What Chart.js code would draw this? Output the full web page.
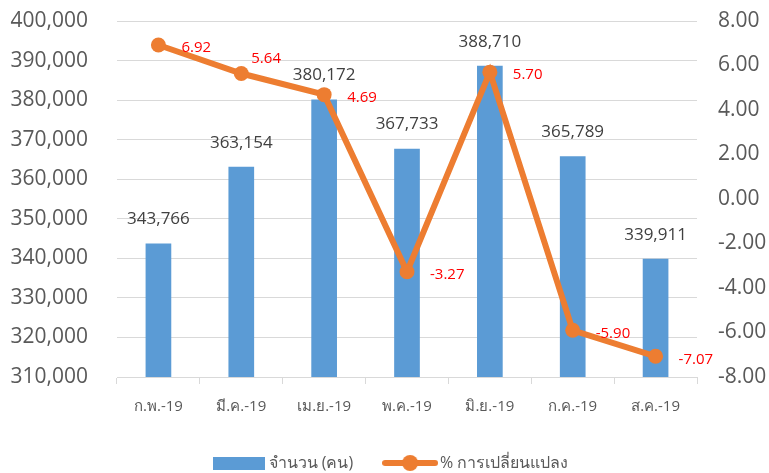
<!DOCTYPE html>
<html>
<head>
<meta charset="utf-8">
<script src="https://cdn.jsdelivr.net/npm/chart.js@4/dist/chart.umd.min.js"></script>
<style>
  html, body { margin: 0; padding: 0; background: #fff; }
</style>
</head>
<body>
<canvas id="chart" width="769" height="473"></canvas>
<script>
// data
const months = ['ก.พ.-19', 'มี.ค.-19', 'เม.ย.-19', 'พ.ค.-19', 'มิ.ย.-19', 'ก.ค.-19', 'ส.ค.-19'];
const visitors = [343766, 363154, 380172, 367733, 388710, 365789, 339911];
const changePct = [6.92, 5.64, 4.69, -3.27, 5.70, -5.90, -7.07];
const barName = 'จำนวน (คน)';
const lineName = '% การเปลี่ยนแปลง';

const BLUE = '#5B9BD5';
const ORANGE = '#ED7D31';
const FONT = '"Open Sans", "Liberation Sans", sans-serif';
const PLOT_BOTTOM = 377;
const LEGEND_Y = 463;
const LEGEND_SHIFT_X = 8;

// % labels sit right of the point; the 5.64 one was dragged up in Excel
const pctLabelShift = [[23, 3], [23, 3], [23, 3], [23, 3], [23, 3], [23, 3], [23, 3]];
pctLabelShift[1] = [10, -15];

const fmt = new Intl.NumberFormat('en-US');

const makeSwatch = (w, h, draw) => {
  const c = document.createElement('canvas');
  c.width = w; c.height = h;
  draw(c.getContext('2d'));
  return c;
};
const barSwatch = makeSwatch(52, 13, g => { g.fillStyle = BLUE; g.fillRect(0, 0, 52, 13); });
const lineSwatch = makeSwatch(56, 18, g => {
  g.strokeStyle = ORANGE; g.lineWidth = 6; g.lineCap = 'round';
  g.beginPath(); g.moveTo(3, 9); g.lineTo(53, 9); g.stroke();
  g.fillStyle = ORANGE; g.beginPath(); g.arc(28, 9, 8, 0, Math.PI * 2); g.fill();
});

const valueLabels = {
  id: 'valueLabels',
  afterDatasetsDraw(chart) {
    const ctx = chart.ctx;
    const bars = chart.getDatasetMeta(1).data;
    const points = chart.getDatasetMeta(0).data;
    ctx.save();
    ctx.textBaseline = 'middle';
    ctx.textAlign = 'center';
    ctx.font = '17px ' + FONT;
    ctx.fillStyle = '#404040';
    bars.forEach((bar, i) => {
      ctx.fillText(fmt.format(visitors[i]), bar.x, bar.y - 24);
    });
    ctx.textAlign = 'left';
    ctx.font = '15px ' + FONT;
    ctx.fillStyle = '#FF0000';
    points.forEach((pt, i) => {
      ctx.fillText(changePct[i].toFixed(2), pt.x + pctLabelShift[i][0], pt.y + pctLabelShift[i][1]);
    });
    ctx.restore();
  }
};

// move the legend row to where Excel put it
const legendNudge = {
  id: 'legendNudge',
  afterLayout(chart) {
    const lg = chart.legend;
    const o = lg.options.labels;
    const dy = LEGEND_Y - (lg.top + o.padding + o.font.size / 2);
    lg.top += dy;
    lg.bottom += dy;
    lg.left += LEGEND_SHIFT_X;
    lg.right += LEGEND_SHIFT_X;
  }
};

new Chart(document.getElementById('chart'), {
  data: {
    labels: months,
    datasets: [
      {
        type: 'line',
        label: lineName,
        data: changePct,
        yAxisID: 'yPct',
        borderColor: ORANGE,
        backgroundColor: ORANGE,
        borderWidth: 6,
        pointRadius: 7.5,
        pointBackgroundColor: ORANGE,
        pointBorderWidth: 0,
        tension: 0,
        order: 0
      },
      {
        type: 'bar',
        label: barName,
        data: visitors,
        yAxisID: 'y',
        backgroundColor: BLUE,
        barPercentage: 0.31,
        categoryPercentage: 1,
        order: 1
      }
    ]
  },
  options: {
    responsive: false,
    animation: false,
    layout: { padding: { top: 21, left: 0, right: 0, bottom: 0 } },
    plugins: {
      tooltip: { enabled: false },
      legend: {
        position: 'bottom',
        reverse: true,
        labels: {
          usePointStyle: true,
          pointStyleWidth: 44,
          padding: 35,
          color: '#595959',
          font: { family: FONT, size: 16 },
          generateLabels: chart => chart.data.datasets.map((ds, i) => ({
            text: ds.label,
            datasetIndex: i,
            hidden: false,
            fontColor: '#595959',
            pointStyle: ds.type === 'bar' ? barSwatch : lineSwatch,
            lineWidth: 0
          }))
        }
      }
    },
    scales: {
      x: {
        grid: {
          offset: true,
          drawOnChartArea: false,
          color: '#D9D9D9',
          tickLength: 7
        },
        border: { color: '#D9D9D9' },
        ticks: { color: '#595959', padding: 14, font: { family: FONT, size: 15 } },
        afterFit: s => { s.height = s.chart.height - PLOT_BOTTOM - s.chart.legend.height; }
      },
      y: {
        position: 'left',
        min: 310000,
        max: 400000,
        ticks: {
          stepSize: 10000,
          padding: 0,
          color: '#595959',
          font: { family: FONT, size: 21 },
          callback: v => fmt.format(v)
        },
        // invisible tick marks keep the labels clear of the plot
        grid: { color: '#D9D9D9', tickLength: 29, tickColor: 'rgba(0,0,0,0)' },
        border: { display: false },
        afterFit: s => { s.width = 117; }
      },
      yPct: {
        position: 'right',
        min: -8,
        max: 8,
        ticks: {
          stepSize: 2,
          padding: 0,
          color: '#595959',
          font: { family: FONT, size: 21 },
          callback: v => v.toFixed(2)
        },
        grid: { drawOnChartArea: false, tickLength: 21, tickColor: 'rgba(0,0,0,0)' },
        border: { display: false },
        afterFit: s => { s.width = 72; }
      }
    }
  },
  plugins: [valueLabels, legendNudge]
});
</script>
</body>
</html>
